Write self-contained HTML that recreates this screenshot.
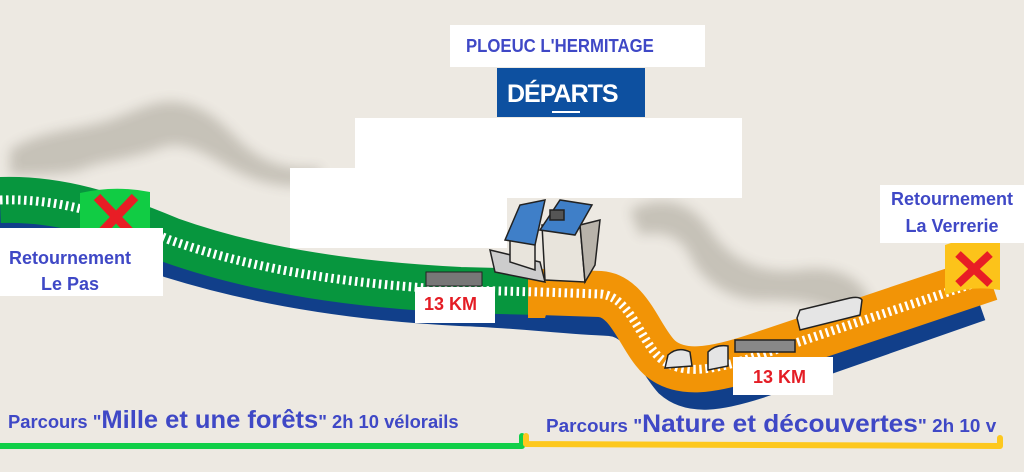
<!DOCTYPE html>
<html><head><meta charset="utf-8"><style>
html,body{margin:0;padding:0;}
body{width:1024px;height:472px;overflow:hidden;background:#ede9e2;position:relative;font-family:"Liberation Sans",sans-serif;}
.box{position:absolute;background:#fff;}
.t{position:absolute;font-weight:bold;color:#3f48c6;white-space:nowrap;}
</style></head><body>
<svg width="1024" height="472" style="position:absolute;left:0;top:0">
<defs><filter id="bl"><feGaussianBlur stdDeviation="6"/></filter></defs>
<g fill="#c4c0b6" filter="url(#bl)" opacity="0.95">
<path d="M10,150 C40,130 80,130 110,120 C140,110 160,95 190,105 C220,115 230,135 250,150 C270,165 290,170 320,168 L320,185 C280,190 250,180 225,165 C200,150 180,140 160,148 C130,160 100,160 80,170 C60,175 30,175 10,175Z"/>
<path d="M630,210 C660,195 690,200 710,230 C730,260 760,275 800,270 C830,265 860,275 870,300 L850,320 C820,300 790,300 760,300 C730,300 700,280 690,255 C680,235 660,230 640,235Z"/>
</g>
<path d="M0,212 C60,212 110,238 170,262 C260,290 360,305 460,310 C520,312 560,318 610,320 C640,322 650,360 670,382 C690,400 720,395 760,382 L980,305" fill="none" stroke="#113f8a" stroke-width="32"/>
<path d="M0,200 C60,198 110,215 170,240 C260,272 360,285 460,290 L540,292" fill="none" stroke="#07963e" stroke-width="46"/>
<path d="M540,292 L600,294 C630,296 640,340 660,358 C680,375 710,372 760,355 L990,278" fill="none" stroke="#f29406" stroke-width="46"/>
<path d="M528,270 L560,270 L545,318 L528,318Z" fill="#f29406"/>
<path d="M0,200 C60,198 110,215 170,240 C260,272 360,285 460,290 L540,292 L600,294 C630,296 640,340 660,358 C680,375 710,372 760,355 L990,278" fill="none" stroke="#fff" stroke-width="9" stroke-dasharray="2.5 3.5"/>
<g stroke="#222" stroke-width="1.5" fill="#e5e5e5">
<path d="M665,368 L668,355 Q678,346 690,352 L692,366Z"/>
<path d="M708,370 L708,352 Q716,344 728,346 L728,366Z"/>
<rect x="735" y="340" width="60" height="12" fill="#888"/>
<path d="M797,318 L800,330 L860,315 L862,300 Q860,296 850,298 L800,310 Z"/>
</g>
<rect x="426" y="272" width="56" height="14" fill="#777" stroke="#222"/>
<path d="M80,193 Q115,185 150,192 L150,250 Q115,242 80,250Z" fill="#11cc44"/>
<path d="M97,197 L135,237 M135,197 L97,237" stroke="#e81d25" stroke-width="9"/>
<path d="M945,245 Q970,235 1000,240 L1000,290 Q970,285 945,295Z" fill="#fcc31a"/>
<path d="M958,254 L990,284 M990,254 L958,284" stroke="#e81d25" stroke-width="8"/>
<path d="M0,446 L522,446 L522,436" fill="none" stroke="#10cf48" stroke-width="6" stroke-linecap="round" stroke-linejoin="round"/>
<path d="M526,436 L526,444 L1000,446 L1000,438" fill="none" stroke="#fdc81e" stroke-width="6" stroke-linecap="round" stroke-linejoin="round"/>
</svg>
<div class="box" style="left:355px;top:118px;width:387px;height:80px"></div>
<div class="box" style="left:290px;top:168px;width:217px;height:80px"></div>
<svg width="1024" height="472" style="position:absolute;left:0;top:0">
<g stroke="#222" stroke-width="1.5">
<path d="M490,250 L540,262 L545,282 L495,272Z" fill="#ccc"/>
<path d="M510,240 L535,240 L535,270 L510,262Z" fill="#e8e4dc"/>
<path d="M542,225 L580,225 L585,282 L545,280Z" fill="#e8e4dc"/>
<path d="M580,225 L600,220 L595,265 L585,282Z" fill="#b8b3aa"/>
<path d="M505,240 L520,205 L545,200 L535,245Z" fill="#3f7fc8"/>
<path d="M540,230 L560,200 L592,205 L575,235Z" fill="#3f7fc8"/>
<rect x="550" y="210" width="14" height="10" fill="#555"/>
</g>
</svg>
<div class="box" style="left:450px;top:25px;width:255px;height:42px"></div>
<div class="t" style="left:466px;top:36px;font-size:18px;transform:scaleX(0.93);transform-origin:left">PLOEUC L'HERMITAGE</div>
<div style="position:absolute;left:497px;top:68px;width:148px;height:49px;background:#0d50a0"></div>
<div class="t" style="left:507px;top:80px;font-size:25px;color:#fff;letter-spacing:-1px">DÉPARTS</div>
<div style="position:absolute;left:552px;top:111px;width:28px;height:2px;background:#fff"></div>
<div class="box" style="left:0;top:228px;width:163px;height:68px"></div>
<div class="t" style="left:0px;top:245px;font-size:18px;width:140px;text-align:center;line-height:26px">Retournement<br>Le Pas</div>
<div class="box" style="left:880px;top:185px;width:148px;height:58px"></div>
<div class="t" style="left:882px;top:186px;font-size:18px;width:140px;text-align:center;line-height:27px">Retournement<br>La Verrerie</div>
<div class="box" style="left:415px;top:287px;width:80px;height:36px"></div>
<div class="t" style="left:424px;top:294px;font-size:18px;color:#e41d25">13 KM</div>
<div class="box" style="left:733px;top:357px;width:100px;height:38px"></div>
<div class="t" style="left:753px;top:367px;font-size:18px;color:#e41d25">13 KM</div>
<div class="t" style="left:8px;top:406px;font-size:18px;transform:scaleX(1.02);transform-origin:left">Parcours "<span style="font-size:25px">Mille et une forêts</span>" 2h 10 vélorails</div>
<div class="t" style="left:546px;top:410px;font-size:18px;transform:scaleX(1.05);transform-origin:left">Parcours "<span style="font-size:25px">Nature et découvertes</span>" 2h 10 v</div>
</body></html>
